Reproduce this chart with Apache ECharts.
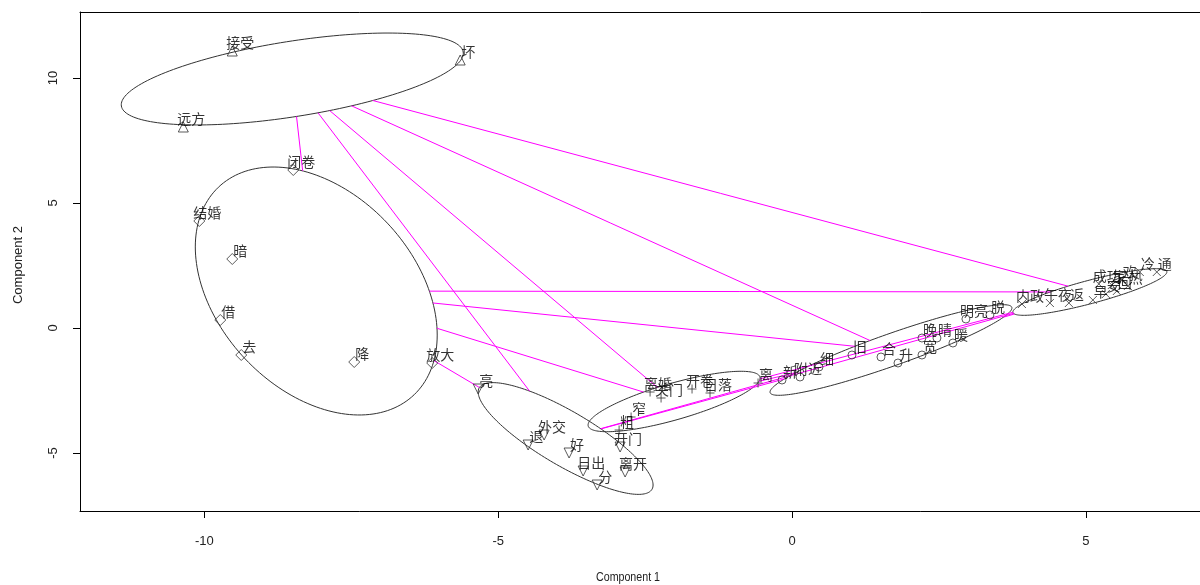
<!DOCTYPE html>
<html><head><meta charset="utf-8">
<script src="https://cdn.jsdelivr.net/npm/echarts@6/dist/echarts.min.js"></script>
<style>html,body{margin:0;padding:0;background:#fff;overflow:hidden}#c{width:1200px;height:585px}</style>
</head><body><div id="c"></div>
<script>
// ---------- data ----------
const xTicks = [-10, -5, 0, 5];
const yTicks = [-5, 0, 5, 10];

const c1Words = ['接受', '坏', '远方'];
const c1X = [-9.524, -5.646, -10.357];
const c1Y = [11.08, 10.72, 8.04];

const c2Words = ['闭卷', '结婚', '暗', '借', '去', '降', '放大'];
const c2X = [-8.486, -10.085, -9.524, -9.728, -9.371, -7.449, -6.122];
const c2Y = [6.32, 4.28, 2.76, 0.32, -1.08, -1.36, -1.40];

const c3Words = ['亮', '退', '外交', '好', '日出', '分', '离开', '开门'];
const c3X = [-5.340, -4.490, -4.218, -3.793, -3.554, -3.316, -2.840, -2.925];
const c3Y = [-2.44, -4.68, -4.28, -5.00, -5.72, -6.28, -5.76, -4.76];

const c4Words = ['离婚', '关门', '开卷', '日落', '离', '窄', '粗'];
const c4X = [-2.415, -2.228, -1.701, -1.395, -0.578, -2.738, -2.942];
const c4Y = [-2.56, -2.80, -2.44, -2.60, -2.20, -3.56, -4.08];

const c5Words = ['新', '附近', '细', '旧', '合', '升', '宽', '晚', '晴', '暖', '明亮', '脱'];
const c5X = [-0.170, 0.136, 0.459, 1.020, 1.514, 1.803, 2.211, 2.211, 2.466, 2.738, 2.959, 3.367];
const c5Y = [-2.08, -1.96, -1.56, -1.08, -1.16, -1.40, -1.08, -0.40, -0.40, -0.60, 0.36, 0.52];

const c6Words = ['内政', '午夜', '返', '早', '成功', '家', '回', '欢', '安', '热', '冷', '通'];
const c6X = [3.912, 4.388, 4.711, 5.119, 5.221, 5.442, 5.527, 5.612, 5.340, 5.714, 5.918, 6.207];
const c6Y = [0.96, 1.00, 1.00, 1.12, 1.76, 1.72, 1.48, 1.92, 1.36, 1.68, 2.24, 2.24];

// cluster ellipses (data units): centre, and two conjugate semi-diameters U, V
const ellCX = [-8.503, -8.095, -3.852, -2.007, 1.684, 5.068];
const ellCY = [9.96, 1.48, -4.42, -2.94, -0.88, 1.44];
const ellUX = [2.908, 2.058, 1.488, 1.463, 2.058, 1.31];
const ellUY = [1.08, -1.762, -1.86, 0.94, 1.68, 0.80];
const ellVX = [0.1, 0, 0, 0, 0, 0];
const ellVY = [-1.488, -4.636, -1.24, -0.76, -0.68, -0.48];

// ---------- derived ----------
function pts(words, xs, ys) {
  return words.map((w, i) => ({ name: w, value: [xs[i], ys[i]] }));
}
// distance segments between ellipse boundaries along centre lines
const segs = [];
function tOf(k, dx, dy) {
  const det = ellUX[k] * ellVY[k] - ellVX[k] * ellUY[k];
  const a = (dx * ellVY[k] - ellVX[k] * dy) / det;
  const b = (ellUX[k] * dy - ellUY[k] * dx) / det;
  return 1 / Math.sqrt(a * a + b * b);
}
for (let i = 0; i < ellCX.length; i++) {
  for (let j = i + 1; j < ellCX.length; j++) {
    const dx = ellCX[j] - ellCX[i], dy = ellCY[j] - ellCY[i];
    const ti = tOf(i, dx, dy), tj = tOf(j, dx, dy);
    if (ti + tj < 1) {
      segs.push([ellCX[i] + ti * dx, ellCY[i] + ti * dy, ellCX[j] - tj * dx, ellCY[j] - tj * dy]);
    }
  }
}

const LATIN = '"Liberation Sans",Arial,sans-serif';
const CJK = '"Noto Sans CJK SC",sans-serif';
const hollow = { color: 'rgba(0,0,0,0)', borderColor: '#333', borderWidth: 1 };
const lbl = { show: true, formatter: '{b}', position: 'inside', offset: [8, -8], fontSize: 14, color: '#000', fontFamily: CJK };

function scatter(data, symbol, size, rotate) {
  return {
    type: 'scatter', data: data, symbol: symbol, symbolSize: size, symbolRotate: rotate || 0,
    itemStyle: hollow, label: lbl, silent: true, z: 5
  };
}

const chart = echarts.init(document.getElementById('c'), null, { renderer: 'canvas' });
chart.setOption({
  animation: false,
  backgroundColor: '#fff',
  grid: { left: 80, top: 12, right: 0, bottom: 74, show: false, containLabel: false },
  xAxis: [{
    type: 'value', min: -12.115, max: 6.942, position: 'bottom',
    splitLine: { show: false },
    axisLine: { show: true, onZero: false, lineStyle: { color: '#000' } },
    axisTick: { show: true, length: 7, lineStyle: { color: '#000' }, customValues: xTicks },
    axisLabel: { customValues: xTicks, margin: 24, fontSize: 13, color: '#222', fontFamily: LATIN }
  }, {
    type: 'value', min: -12.115, max: 6.942, position: 'top',
    splitLine: { show: false },
    axisLine: { show: true, onZero: false, lineStyle: { color: '#000' } },
    axisTick: { show: false }, axisLabel: { show: false }
  }],
  yAxis: {
    type: 'value', min: -7.32, max: 12.64,
    splitLine: { show: false },
    axisLine: { show: true, onZero: false, lineStyle: { color: '#000' } },
    axisTick: { show: true, length: 7, lineStyle: { color: '#000' }, customValues: yTicks },
    axisLabel: { customValues: yTicks, rotate: 90, margin: 20, fontSize: 13, color: '#222', fontFamily: LATIN }
  },
  graphic: [
    { type: 'text', x: 628, y: 577, scaleX: 0.82, style: { text: 'Component 1', font: '13px ' + LATIN, fill: '#222', textAlign: 'center', textVerticalAlign: 'middle' } },
    { type: 'text', x: 18, y: 265, rotation: Math.PI / 2, style: { text: 'Component 2', font: '13px ' + LATIN, fill: '#222', textAlign: 'center', textVerticalAlign: 'middle' } }
  ],
  series: [
    {
      type: 'custom', silent: true, z: 2,
      data: ellCX.map((_, i) => [i]),
      renderItem: function (params, api) {
        const k = api.value(0);
        const p = [];
        for (let s = 0; s <= 180; s++) {
          const t = s / 180 * Math.PI * 2;
          const c = Math.cos(t), sn = Math.sin(t);
          p.push(api.coord([ellCX[k] + ellUX[k] * c + ellVX[k] * sn, ellCY[k] + ellUY[k] * c + ellVY[k] * sn]));
        }
        return { type: 'polyline', shape: { points: p }, style: { fill: null, stroke: '#333', lineWidth: 1 } };
      }
    },
    {
      type: 'custom', silent: true, z: 3,
      data: segs,
      renderItem: function (params, api) {
        const a = api.coord([api.value(0), api.value(1)]);
        const b = api.coord([api.value(2), api.value(3)]);
        return { type: 'line', shape: { x1: a[0], y1: a[1], x2: b[0], y2: b[1] }, style: { stroke: '#ff00ff', lineWidth: 1 } };
      }
    },
    scatter(pts(c1Words, c1X, c1Y), 'triangle', 10),
    scatter(pts(c2Words, c2X, c2Y), 'diamond', 11),
    scatter(pts(c3Words, c3X, c3Y), 'triangle', 10, 180),
    scatter(pts(c4Words, c4X, c4Y), 'path://M0,5L10,5M5,0L5,10', 9),
    scatter(pts(c5Words, c5X, c5Y), 'circle', 8),
    scatter(pts(c6Words, c6X, c6Y), 'path://M0,0L10,10M10,0L0,10', 8)
  ]
});
</script></body></html>
